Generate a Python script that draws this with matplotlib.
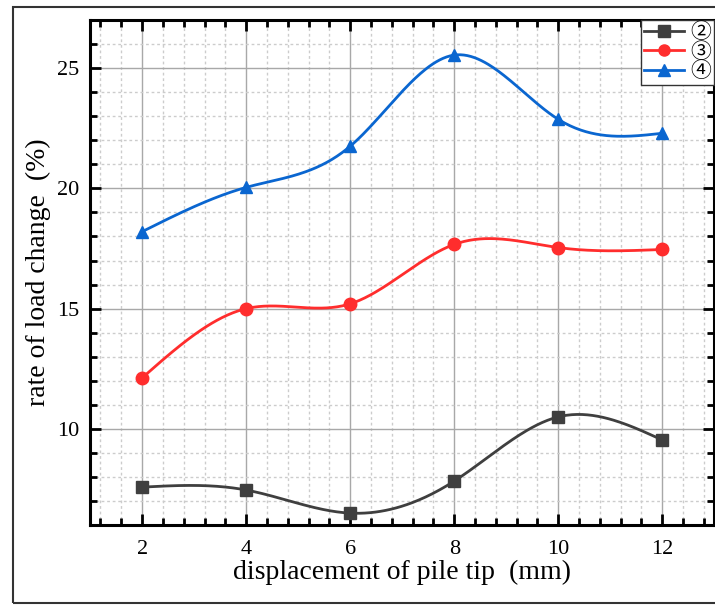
import matplotlib
matplotlib.use("Agg")
import matplotlib.pyplot as plt
import numpy as np
from matplotlib.ticker import MultipleLocator
from matplotlib.patches import Rectangle

displacement = [2, 4, 6, 8, 10, 12]
series_labels = ["②", "③", "④"]
rate_2 = [7.58, 7.46, 6.5, 7.83, 10.5, 9.54]
rate_3 = [12.12, 15.0, 15.2, 17.67, 17.54, 17.46]
rate_4 = [18.2, 20.04, 21.75, 25.54, 22.87, 22.29]

colors = ["#3f3f3f", "#ff2d2d", "#0a66d0"]
markers = ["s", "o", "^"]


def natural_spline(x, y, n=300):
    # plain natural cubic spline, just for drawing the smooth line
    x = np.asarray(x, float)
    y = np.asarray(y, float)
    k = len(x)
    h = np.diff(x)
    A = np.zeros((k, k))
    b = np.zeros(k)
    A[0, 0] = A[-1, -1] = 1
    for i in range(1, k - 1):
        A[i, i - 1] = h[i - 1]
        A[i, i] = 2 * (h[i - 1] + h[i])
        A[i, i + 1] = h[i]
        b[i] = 6 * ((y[i + 1] - y[i]) / h[i] - (y[i] - y[i - 1]) / h[i - 1])
    M = np.linalg.solve(A, b)
    xs = np.linspace(x[0], x[-1], n)
    idx = np.clip(np.searchsorted(x, xs) - 1, 0, k - 2)
    x0, x1 = x[idx], x[idx + 1]
    hh = x1 - x0
    t0 = x1 - xs
    t1 = xs - x0
    ys = (M[idx] * t0 ** 3 + M[idx + 1] * t1 ** 3) / (6 * hh) \
        + (y[idx] / hh - M[idx] * hh / 6) * t0 \
        + (y[idx + 1] / hh - M[idx + 1] * hh / 6) * t1
    return xs, ys


plt.rcParams['font.family'] = ['Liberation Serif', 'Noto Sans CJK SC']

fig = plt.figure(figsize=(7.15, 6.05), dpi=100)
ax = fig.add_axes([0.126, 0.132, 0.873, 0.835])

# outer frame of the picture
fig.patches.append(Rectangle((13 / 715, 2 / 605), 1.2, 596 / 605, transform=fig.transFigure,
                             fill=False, edgecolor="#333333", linewidth=1.5))

for ys, c, m, lab in zip([rate_2, rate_3, rate_4], colors, markers, series_labels):
    xs_s, ys_s = natural_spline(displacement, ys)
    ax.plot(xs_s, ys_s, color=c, linewidth=2, zorder=3)
    ax.plot(displacement, ys, linestyle="none", marker=m, color=c, markersize=9, zorder=4)
    ax.plot([], [], color=c, marker=m, markersize=8, linewidth=2, label=lab)

ax.set_xlim(1, 13)
ax.set_ylim(6, 27)
ax.xaxis.set_major_locator(MultipleLocator(2))
ax.xaxis.set_minor_locator(MultipleLocator(0.4))
ax.yaxis.set_major_locator(MultipleLocator(5))
ax.yaxis.set_minor_locator(MultipleLocator(1))
ax.set_xticks([2, 4, 6, 8, 10, 12])
ax.set_yticks([10, 15, 20, 25])

ax.grid(which="major", color="#a8a8a8", linewidth=1, linestyle="-")
ax.grid(which="minor", color="#cccccc", linewidth=1, linestyle=(0, (2, 2)))
ax.set_axisbelow(True)

for s in ax.spines.values():
    s.set_linewidth(2.2)
ax.tick_params(which="both", direction="in", top=True, right=True, width=2, labelsize=16)
ax.tick_params(axis="x", pad=11)
ax.tick_params(axis="y", pad=8)
ax.tick_params(which="major", length=8)
ax.tick_params(which="minor", length=5)

ax.set_xlabel("displacement of pile tip  (mm)", fontsize=20, labelpad=0)
ax.set_ylabel("rate of load change  (%)", fontsize=20, labelpad=4)

leg = ax.legend(loc="upper right", bbox_to_anchor=(1, 1), borderaxespad=0, fontsize=15,
                handlelength=1.9, handletextpad=0.3, labelspacing=0.0, borderpad=0.15,
                fancybox=False, framealpha=1)
leg.get_frame().set_edgecolor("#333333")
leg.get_frame().set_linewidth(1)

fig.savefig("out.png", dpi=100)
